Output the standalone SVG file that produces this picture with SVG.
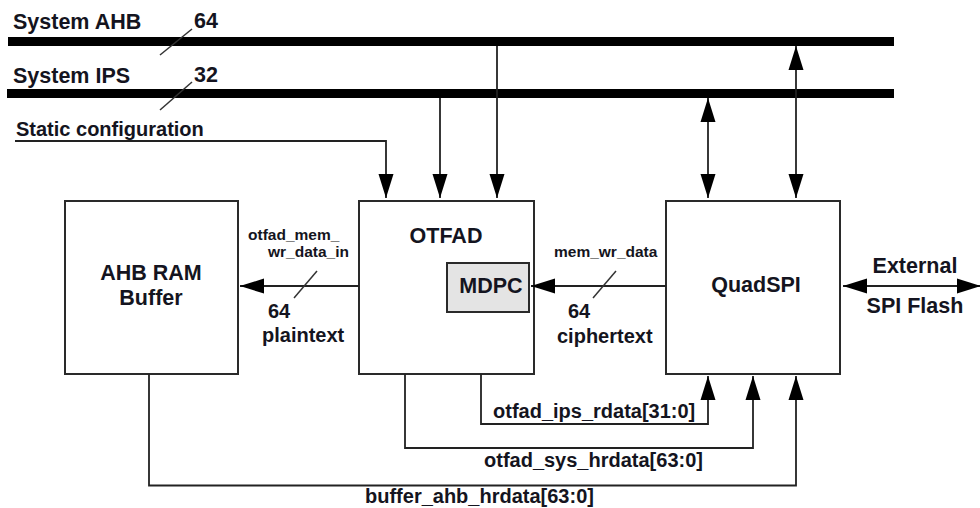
<svg xmlns="http://www.w3.org/2000/svg" width="980" height="508" viewBox="0 0 980 508">
  <style>
    text { font-family: "Liberation Sans", Arial, Helvetica, sans-serif; font-weight: bold; fill: #141420; }
    .node { fill: #ffffff; stroke: #2a2a2a; stroke-width: 2; }
    .sub { fill: #e4e4e4; stroke: #2a2a2a; stroke-width: 2; }
    .bus { stroke: #000000; stroke-width: 9; fill: none; }
    .wire { stroke: #222222; stroke-width: 1.8; fill: none; }
    .slash { stroke: #333333; stroke-width: 1.5; fill: none; }
    .big { font-size: 21.5px; }
    .mid { font-size: 20px; }
    .small { font-size: 15.5px; }
  </style>
  <defs>
    <marker id="arrow" markerUnits="userSpaceOnUse" markerWidth="24" markerHeight="15" refX="24" refY="7.5" orient="auto-start-reverse" overflow="visible">
      <path d="M0,0 L24,7.5 L0,15 Z" fill="#000000"/>
    </marker>
  </defs>

  <!-- system buses -->
  <g id="bus-ahb">
    <line class="bus" x1="8" y1="41.5" x2="894" y2="41.5"/>
    <text class="big" x="13" y="29" font-size="22">System AHB</text>
    <line class="slash" x1="160" y1="55" x2="192" y2="29"/>
    <text class="big" x="194" y="28">64</text>
  </g>
  <g id="bus-ips">
    <line class="bus" x1="7" y1="93.5" x2="894" y2="93.5"/>
    <text class="big" x="13" y="83" font-size="22">System IPS</text>
    <line class="slash" x1="160" y1="110" x2="192" y2="82"/>
    <text class="big" x="194" y="82">32</text>
  </g>
  <g id="static-config">
    <text class="mid" x="16" y="136">Static configuration</text>
  </g>

  <!-- blocks -->
  <g id="ahb-ram-buffer">
    <rect class="node" x="65" y="201" width="173" height="173"/>
    <text class="big" x="151" y="280" text-anchor="middle">AHB RAM</text>
    <text class="big" x="151" y="305" text-anchor="middle">Buffer</text>
  </g>
  <g id="otfad">
    <rect class="node" x="359" y="201" width="175" height="173"/>
    <text class="big" x="446" y="243" text-anchor="middle">OTFAD</text>
  </g>
  <g id="mdpc">
    <rect class="sub" x="447" y="263" width="82" height="49"/>
    <text class="big" x="491" y="293" text-anchor="middle">MDPC</text>
  </g>
  <g id="quadspi">
    <rect class="node" x="666" y="201" width="174" height="173"/>
    <text class="big" x="756" y="292" text-anchor="middle">QuadSPI</text>
  </g>
  <g id="external-flash">
    <text class="big" x="915" y="273" text-anchor="middle">External</text>
    <text class="big" x="915" y="313" text-anchor="middle">SPI Flash</text>
  </g>

  <!-- connectors -->
  <g id="connectors">
    <!-- configuration and bus inputs to OTFAD -->
    <polyline class="wire" points="15,141 386,141 386,198" marker-end="url(#arrow)"/>
    <line class="wire" x1="440" y1="98" x2="440" y2="198" marker-end="url(#arrow)"/>
    <line class="wire" x1="497" y1="46" x2="497" y2="198" marker-end="url(#arrow)"/>

    <!-- QuadSPI bus ports -->
    <line class="wire" x1="708" y1="98" x2="708" y2="198" marker-start="url(#arrow)" marker-end="url(#arrow)"/>
    <line class="wire" x1="796" y1="46" x2="796" y2="198" marker-start="url(#arrow)" marker-end="url(#arrow)"/>

    <!-- plaintext write path -->
    <line class="wire" x1="359" y1="286" x2="240" y2="286" marker-end="url(#arrow)"/>
    <line class="slash" x1="294" y1="298" x2="317" y2="271"/>
    <text class="small" x="248" y="240">otfad_mem_</text>
    <text class="small" x="268" y="257">wr_data_in</text>
    <text class="mid" x="268" y="318">64</text>
    <text class="mid" x="262" y="342">plaintext</text>

    <!-- ciphertext write path -->
    <line class="wire" x1="666" y1="286" x2="531" y2="286" marker-end="url(#arrow)"/>
    <line class="slash" x1="593" y1="298" x2="616" y2="271"/>
    <text class="small" x="554" y="257">mem_wr_data</text>
    <text class="mid" x="568" y="318">64</text>
    <text class="mid" x="557" y="343">ciphertext</text>

    <!-- external flash link -->
    <line class="wire" x1="843" y1="286" x2="981" y2="286" marker-start="url(#arrow)" marker-end="url(#arrow)"/>

    <!-- read data returns -->
    <polyline class="wire" points="481,374 481,424 708,424 708,376" marker-end="url(#arrow)"/>
    <polyline class="wire" points="405,374 405,448 753,448 753,376" marker-end="url(#arrow)"/>
    <polyline class="wire" points="149,374 149,485.5 796,485.5 796,376" marker-end="url(#arrow)"/>
    <text class="mid" x="493" y="418">otfad_ips_rdata[31:0]</text>
    <text class="mid" x="484" y="467">otfad_sys_hrdata[63:0]</text>
    <text class="mid" x="365" y="503">buffer_ahb_hrdata[63:0]</text>
  </g>
</svg>
